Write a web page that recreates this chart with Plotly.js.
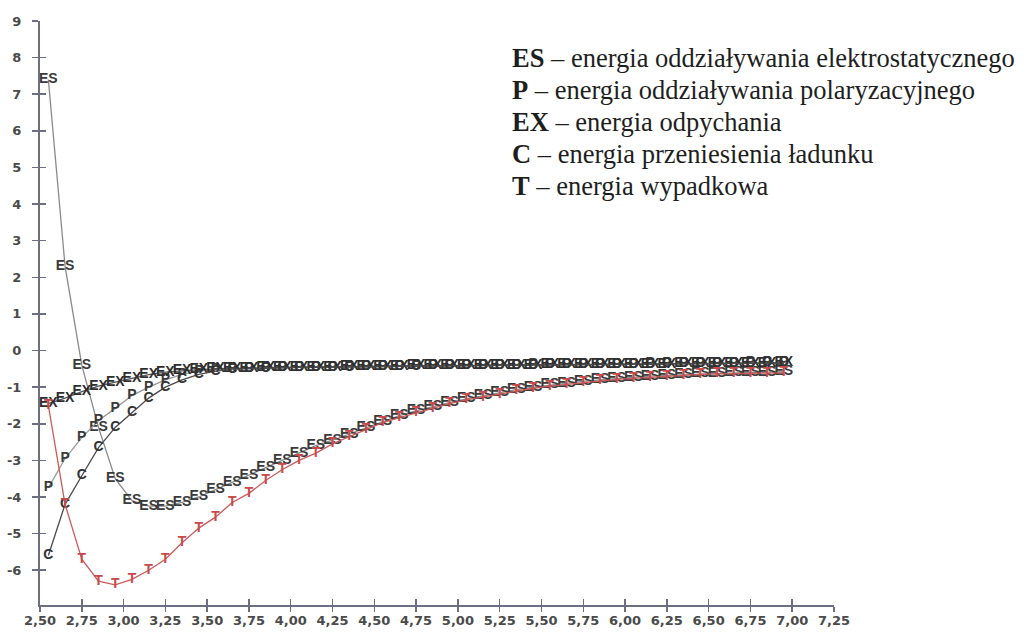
<!DOCTYPE html>
<html>
<head>
<meta charset="utf-8">
<script src="https://cdn.plot.ly/plotly-3.0.1.min.js"></script>
<style>html,body{margin:0;padding:0;background:#fff;}#chart{width:1026px;height:632px;}</style>
</head>
<body>
<div id="chart"></div>
<script>
// distances (x) shared by all series
const distance = [2.55,2.65,2.75,2.85,2.95,3.05,3.15,3.25,3.35,3.45,3.55,3.65,3.75,3.85,3.95,4.05,4.15,4.25,4.35,4.45,4.55,4.65,4.75,4.85,4.95,5.05,5.15,5.25,5.35,5.45,5.55,5.65,5.75,5.85,5.95,6.05,6.15,6.25,6.35,6.45,6.55,6.65,6.75,6.85,6.95];

const energyES = [7.4,2.3,-0.4,-2.1,-3.5,-4.1,-4.25,-4.25,-4.15,-4.0,-3.8,-3.6,-3.4,-3.2,-3.0,-2.8,-2.6,-2.45,-2.28,-2.1,-1.93,-1.78,-1.65,-1.53,-1.42,-1.32,-1.23,-1.15,-1.07,-1.0,-0.94,-0.89,-0.84,-0.8,-0.76,-0.73,-0.7,-0.68,-0.66,-0.64,-0.62,-0.61,-0.6,-0.59,-0.58];

const energyP = [-3.75,-2.95,-2.38,-1.91,-1.58,-1.23,-1.0,-0.8,-0.65,-0.56,-0.51,-0.49,-0.48,-0.47,-0.46,-0.46,-0.45,-0.45,-0.44,-0.44,-0.43,-0.43,-0.42,-0.42,-0.41,-0.41,-0.4,-0.4,-0.4,-0.39,-0.39,-0.38,-0.38,-0.38,-0.37,-0.37,-0.36,-0.36,-0.36,-0.35,-0.35,-0.35,-0.34,-0.34,-0.34];

const energyEX = [-1.45,-1.3,-1.12,-0.97,-0.86,-0.76,-0.66,-0.59,-0.55,-0.52,-0.5,-0.49,-0.48,-0.47,-0.46,-0.46,-0.45,-0.45,-0.44,-0.44,-0.43,-0.43,-0.42,-0.42,-0.41,-0.41,-0.41,-0.4,-0.4,-0.4,-0.39,-0.39,-0.39,-0.38,-0.38,-0.37,-0.37,-0.37,-0.36,-0.36,-0.36,-0.35,-0.35,-0.35,-0.34];

const energyC = [-5.6,-4.2,-3.42,-2.65,-2.1,-1.69,-1.3,-1.0,-0.8,-0.65,-0.56,-0.51,-0.49,-0.48,-0.47,-0.46,-0.46,-0.45,-0.45,-0.44,-0.44,-0.43,-0.43,-0.42,-0.42,-0.41,-0.41,-0.4,-0.4,-0.4,-0.39,-0.39,-0.38,-0.38,-0.38,-0.37,-0.37,-0.36,-0.36,-0.36,-0.35,-0.35,-0.35,-0.34,-0.34];

const energyT = [-1.5,-4.2,-5.7,-6.3,-6.4,-6.25,-6.0,-5.7,-5.25,-4.85,-4.55,-4.15,-3.9,-3.55,-3.25,-3.0,-2.8,-2.55,-2.35,-2.15,-1.97,-1.83,-1.7,-1.58,-1.45,-1.35,-1.27,-1.2,-1.1,-1.03,-0.97,-0.92,-0.87,-0.82,-0.79,-0.76,-0.73,-0.7,-0.67,-0.65,-0.64,-0.63,-0.62,-0.62,-0.61];

const seriesLabels = ["ES","P","EX","C","T"];
const legendAbbr = ["ES","P","EX","C","T"];
const legendDesc = [
  "energia oddziaływania elektrostatycznego",
  "energia oddziaływania polaryzacyjnego",
  "energia odpychania",
  "energia przeniesienia ładunku",
  "energia wypadkowa"
];

const xTickVals = [2.5,2.75,3.0,3.25,3.5,3.75,4.0,4.25,4.5,4.75,5.0,5.25,5.5,5.75,6.0,6.25,6.5,6.75,7.0,7.25];
const xTickText = ["2,50","2,75","3,00","3,25","3,50","3,75","4,00","4,25","4,50","4,75","5,00","5,25","5,50","5,75","6,00","6,25","6,50","6,75","7,00","7,25"];
const yTickVals = [-6,-5,-4,-3,-2,-1,0,1,2,3,4,5,6,7,8,9];
const yTickText = ["-6","-5","-4","-3","-2","-1","0","1","2","3","4","5","6","7","8","9"];

const seriesValues = [energyES, energyP, energyEX, energyC, energyT];
const lineColors = ["#8a8a8a","#9a9a9a","#555555","#4a4a4a","#cc5a5a"];
const textColors = ["#3a3a3a","#3a3a3a","#2e2e2e","#333333","#c84a4a"];

const traces = seriesValues.map((vals, i) => ({
  type: "scatter",
  mode: "lines+text",
  x: distance,
  y: vals,
  text: distance.map(() => seriesLabels[i]),
  textposition: "middle center",
  textfont: {family: "Liberation Sans", size: 14, weight: "bold", color: textColors[i]},
  line: {color: lineColors[i], width: 1.3},
  showlegend: false,
  hoverinfo: "x+y",
  cliponaxis: false
}));
// empty helper trace so the crossing-tick overlay axes are drawn
traces.push({type:"scatter", x:[], y:[], xaxis:"x2", yaxis:"y2", showlegend:false, hoverinfo:"skip"});

const axisColor = "#6e6e82";
const tickFont = {family: "DejaVu Sans", size: 13, weight: "bold", color: "#4a4a4a"};

const annotations = legendAbbr.map((a, i) => ({
  xref: "paper", yref: "paper",
  x: 0.592, y: 0.937 - i * 0.0548,
  xanchor: "left", yanchor: "middle",
  showarrow: false,
  text: "<b>" + a + "</b> – " + legendDesc[i],
  font: {family: "Liberation Serif", size: 26.5, weight: "normal", color: "#1e1e1e"}
}));

const layout = {
  width: 1026, height: 632,
  margin: {l: 40, r: 192, t: 21, b: 27},
  paper_bgcolor: "#ffffff", plot_bgcolor: "#ffffff",
  font: {family: "Liberation Sans", size: 14, color: "#454545"},
  showlegend: false,
  xaxis: {
    range: [2.5, 7.25], tickmode: "array", tickvals: xTickVals, ticktext: xTickText,
    showgrid: false, zeroline: false, showline: true, linecolor: axisColor, linewidth: 2,
    ticks: "outside", ticklen: 5, tickwidth: 1.5, tickcolor: axisColor,
    tickfont: tickFont, ticklabelstandoff: -3
  },
  yaxis: {
    range: [-6.95, 9], tickmode: "array", tickvals: yTickVals, ticktext: yTickText,
    showgrid: false, zeroline: false, showline: true, linecolor: axisColor, linewidth: 2,
    ticks: "outside", ticklen: 6, tickwidth: 1.5, tickcolor: axisColor,
    tickfont: tickFont, ticklabelstandoff: 8
  },
  xaxis2: {
    overlaying: "x", anchor: "y2", range: [2.5, 7.25], tickmode: "array", tickvals: xTickVals,
    showticklabels: false, showgrid: false, zeroline: false, showline: false,
    ticks: "inside", ticklen: 6, tickwidth: 1.5, tickcolor: axisColor
  },
  yaxis2: {
    overlaying: "y", anchor: "x2", range: [-6.95, 9], tickmode: "array", tickvals: yTickVals,
    showticklabels: false, showgrid: false, zeroline: false, showline: false,
    ticks: "inside", ticklen: 6, tickwidth: 1.5, tickcolor: axisColor
  },
  annotations: annotations
};

Plotly.newPlot("chart", traces, layout, {displayModeBar: false, staticPlot: true});
</script>
</body>
</html>
